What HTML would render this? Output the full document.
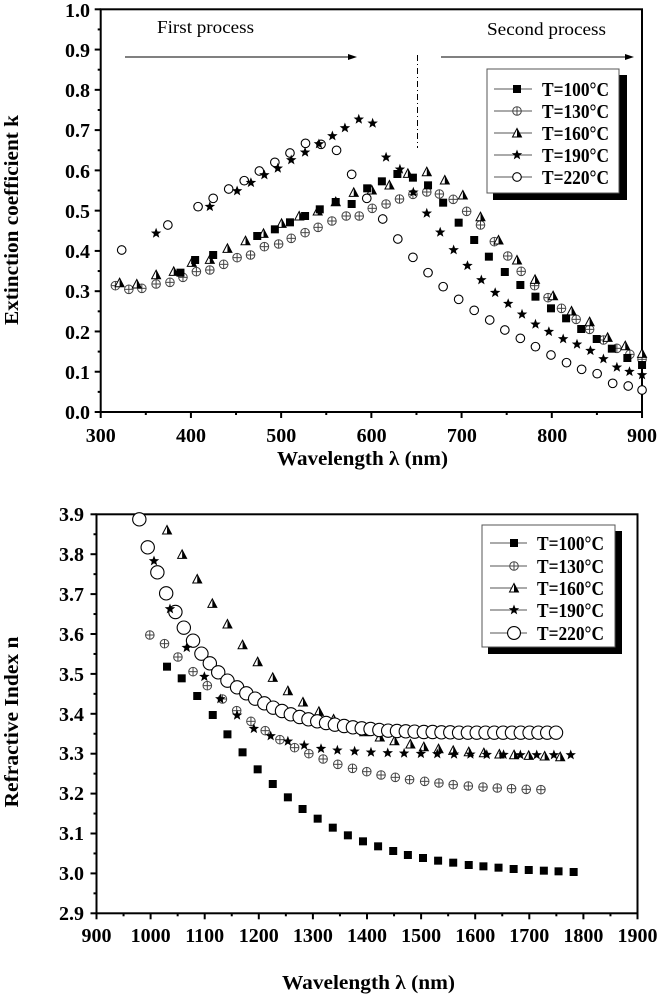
<!DOCTYPE html>
<html><head><meta charset="utf-8">
<style>
html,body{margin:0;padding:0;background:#fff;}
svg{display:block;}
text{font-family:"Liberation Serif",serif;}
</style></head>
<body>
<svg id="s" width="658" height="998" viewBox="0 0 658 998" xmlns="http://www.w3.org/2000/svg">
<rect width="658" height="998" fill="#fff"/>
<g id="g"></g>
<!-- texts -->
<g font-weight="bold" font-size="20" fill="#000">
  <text x="90" y="419" text-anchor="end">0.0</text>
  <text x="90" y="379" text-anchor="end">0.1</text>
  <text x="90" y="339" text-anchor="end">0.2</text>
  <text x="90" y="298" text-anchor="end">0.3</text>
  <text x="90" y="258" text-anchor="end">0.4</text>
  <text x="90" y="218" text-anchor="end">0.5</text>
  <text x="90" y="178" text-anchor="end">0.6</text>
  <text x="90" y="137" text-anchor="end">0.7</text>
  <text x="90" y="97" text-anchor="end">0.8</text>
  <text x="90" y="57" text-anchor="end">0.9</text>
  <text x="90" y="17" text-anchor="end">1.0</text>
  <text x="100.7" y="442" text-anchor="middle">300</text>
  <text x="191" y="442" text-anchor="middle">400</text>
  <text x="281.3" y="442" text-anchor="middle">500</text>
  <text x="371.6" y="442" text-anchor="middle">600</text>
  <text x="461.9" y="442" text-anchor="middle">700</text>
  <text x="552.2" y="442" text-anchor="middle">800</text>
  <text x="642" y="442" text-anchor="middle">900</text>
  <text x="277" y="465" textLength="171" lengthAdjust="spacingAndGlyphs">Wavelength λ (nm)</text>
  <text transform="translate(18,220) rotate(-90)" text-anchor="middle" textLength="210" lengthAdjust="spacingAndGlyphs">Extinction coefficient k</text>

  <text x="84" y="521" text-anchor="end">3.9</text>
  <text x="84" y="561" text-anchor="end">3.8</text>
  <text x="84" y="601" text-anchor="end">3.7</text>
  <text x="84" y="641" text-anchor="end">3.6</text>
  <text x="84" y="681" text-anchor="end">3.5</text>
  <text x="84" y="721" text-anchor="end">3.4</text>
  <text x="84" y="760" text-anchor="end">3.3</text>
  <text x="84" y="800" text-anchor="end">3.2</text>
  <text x="84" y="840" text-anchor="end">3.1</text>
  <text x="84" y="880" text-anchor="end">3.0</text>
  <text x="84" y="920" text-anchor="end">2.9</text>
  <text x="96.5" y="942" text-anchor="middle">900</text>
  <text x="150.6" y="942" text-anchor="middle">1000</text>
  <text x="204.7" y="942" text-anchor="middle">1100</text>
  <text x="258.8" y="942" text-anchor="middle">1200</text>
  <text x="312.9" y="942" text-anchor="middle">1300</text>
  <text x="367" y="942" text-anchor="middle">1400</text>
  <text x="421.1" y="942" text-anchor="middle">1500</text>
  <text x="475.2" y="942" text-anchor="middle">1600</text>
  <text x="529.3" y="942" text-anchor="middle">1700</text>
  <text x="583.4" y="942" text-anchor="middle">1800</text>
  <text x="637.5" y="942" text-anchor="middle">1900</text>
  <text x="282" y="989" textLength="173" lengthAdjust="spacingAndGlyphs">Wavelength λ (nm)</text>
  <text transform="translate(18,722) rotate(-90)" text-anchor="middle" textLength="171" lengthAdjust="spacingAndGlyphs">Refractive Index n</text>
</g>
<g font-size="18" fill="#000">
  <text x="157" y="33" textLength="97" lengthAdjust="spacingAndGlyphs">First process</text>
  <text x="487" y="35" textLength="119" lengthAdjust="spacingAndGlyphs">Second process</text>
</g>
</svg>
<script>
var g=document.getElementById('g');var h='';
function L(x1,y1,x2,y2,w,c,extra){h+='<line x1="'+x1+'" y1="'+y1+'" x2="'+x2+'" y2="'+y2+'" stroke="'+(c||'#000')+'" stroke-width="'+(w||1)+'" '+(extra||'')+'/>';}
function star(x,y,r){var p=[];for(var i=0;i<10;i++){var a=-Math.PI/2+i*Math.PI/5;var rr=i%2?r*0.42:r;p.push((x+rr*Math.cos(a)).toFixed(1)+','+(y+rr*Math.sin(a)).toFixed(1));}return '<polygon points="'+p.join(' ')+'" fill="#000"/>';}
function M(t,x,y,s){s=s||1;
 if(t==0){var a=4*s;h+='<rect x="'+(x-a)+'" y="'+(y-a)+'" width="'+2*a+'" height="'+2*a+'" fill="#000"/>';}
 else if(t==1){var r=4.3*s;h+='<circle cx="'+x+'" cy="'+y+'" r="'+r+'" fill="#fff" stroke="#444" stroke-width="1"/>';L(x-r,y,x+r,y,1,'#444');L(x,y-r,x,y+r,1,'#444');}
 else if(t==2){var a=4.5*s;h+='<polygon points="'+x+','+(y-a)+' '+(x+a)+','+(y+a*0.9)+' '+(x-a)+','+(y+a*0.9)+'" fill="#fff" stroke="#000" stroke-width="1"/>';h+='<polygon points="'+x+','+(y-a)+' '+(x+a)+','+(y+a*0.9)+' '+x+','+(y+a*0.9)+'" fill="#000"/>';}
 else if(t==3){h+=star(x,y,5.5*s);}
 else {var r=4.3*s;h+='<circle cx="'+x+'" cy="'+y+'" r="'+r+'" fill="#fff" stroke="#000" stroke-width="1.1"/>';}
}
// ---- top frame
h+='<rect x="100.7" y="9.3" width="541.3" height="402.7" fill="none" stroke="#000" stroke-width="2"/>';
for(var i=0;i<=12;i++){var x=100.7+i*45.11;L(x,412,x,412+(i%2?3:6),2);}
for(var i=0;i<=20;i++){var y=412-i*20.135;L(100.7,y,100.7-(i%2?3:6),y,2);}
// arrows
L(125,57,350,57,1);h+='<polygon points="357,57 348,54 348,60" fill="#000"/>';
L(441,57,627,57,1);h+='<polygon points="634,57 625,54 625,60" fill="#000"/>';
L(417.5,55,417.5,148,1,'#000','stroke-dasharray="6,3,1,3"');
// ---- bottom frame
h+='<rect x="96.5" y="514.3" width="541" height="399" fill="none" stroke="#000" stroke-width="2"/>';
for(var i=0;i<=20;i++){var x=96.5+i*27.05;L(x,913.3,x,913.3+(i%2?3:6),2);}
for(var i=0;i<=20;i++){var y=913.3-i*19.95;L(96.5,y,96.5-(i%2?3:6),y,2);}
// ---- top data (zoom coords)
var T=[
[[430,818],[465,780],[508,765],[613,708],[655,688],[691,667],[727,648],[762,628],[800,606],[838,612],[875,565],[910,544],[947,522],[984,533],[1020,556],[1056,608],[1093,668],[1130,720],[1165,770],[1203,816],[1240,855],[1276,890],[1313,925],[1349,955],[1385,987],[1422,1017],[1458,1046],[1495,1074],[1530,1095]],
[[275,857],[307,868],[338,865],[372,852],[405,847],[436,832],[468,815],[500,810],[533,793],[565,773],[597,765],[630,740],[664,732],[694,715],[727,698],[758,682],[791,663],[825,648],[856,648],[887,625],[920,612],[952,597],[984,583],[1017,576],[1047,582],[1080,598],[1112,634],[1145,675],[1178,725],[1210,768],[1242,814],[1274,857],[1306,893],[1338,925],[1373,958],[1405,988],[1438,1020],[1470,1045],[1501,1063],[1530,1078]],
[[285,848],[326,852],[372,824],[414,814],[457,787],[500,778],[542,745],[585,722],[628,700],[671,670],[713,648],[757,633],[800,605],[843,577],[886,570],[928,555],[972,520],[1017,515],[1060,540],[1103,585],[1145,650],[1188,720],[1232,780],[1275,838],[1318,887],[1362,933],[1405,965],[1448,1012],[1490,1037],[1530,1060]],
[[372,700],[500,620],[565,573],[598,548],[630,525],[662,505],[694,480],[727,457],[760,432],[792,408],[822,384],[855,358],[888,370],[920,472],[953,508],[985,577],[1017,640],[1049,697],[1081,750],[1114,797],[1147,840],[1180,878],[1211,911],[1244,943],[1276,973],[1308,995],[1342,1017],[1375,1033],[1407,1052],[1438,1077],[1470,1102],[1500,1115],[1530,1125]],
[[290,750],[400,675],[472,620],[508,595],[545,567],[582,542],[618,513],[655,487],[691,459],[728,430],[765,433],[802,451],[838,523],[874,595],[912,657],[948,717],[984,772],[1020,818],[1056,860],[1093,898],[1130,931],[1167,960],[1203,990],[1240,1015],[1276,1040],[1313,1065],[1350,1088],[1386,1108],[1423,1121],[1460,1150],[1497,1158],[1530,1170]]];
var order=[4,1,2,0,3];
order.forEach(function(s){T[s].forEach(function(p){M(s,p[0]/2.383,p[1]/3);});});
// ---- bottom data
var B=[
[[398,530],[433,565],[470,618],[507,675],[542,733],[578,787],[614,838],[650,882],[686,922],[721,957],[757,986],[793,1013],[829,1036],[865,1054],[901,1069],[937,1083],[972,1095],[1008,1104],[1044,1112],[1080,1118],[1117,1125],[1152,1129],[1188,1133],[1224,1137],[1260,1140],[1296,1142],[1331,1144],[1367,1146]],
[[357,435],[392,461],[424,501],[460,545],[494,587],[530,627],[564,662],[598,694],[632,722],[667,749],[702,773],[736,791],[770,807],[805,823],[840,835],[874,845],[908,855],[942,862],[976,869],[1012,874],[1046,879],[1080,884],[1116,888],[1151,891],[1185,894],[1219,896],[1254,898],[1289,899]],
[[398,120],[434,193],[470,267],[506,340],[542,402],[578,464],[614,515],[650,562],[686,602],[722,636],[760,664],[795,687],[830,708],[868,725],[905,741],[940,752],[978,762],[1010,770],[1045,776],[1080,781],[1117,785],[1153,788],[1190,792],[1225,794],[1260,796],[1298,798],[1335,800]],
[[367,213],[405,357],[445,473],[487,560],[525,627],[565,676],[605,716],[645,738],[686,754],[725,766],[765,776],[804,781],[845,784],[884,787],[924,789],[963,790],[1003,791],[1042,792],[1082,793],[1121,793],[1160,794],[1200,794],[1240,795],[1279,795],[1320,795],[1360,795]],
[[332,88],[352,172],[375,247],[396,310],[418,366],[438,413],[460,452],[480,491],[500,520],[520,547],[542,572],[565,592],[587,610],[608,626],[630,640],[651,653],[672,663],[693,673],[714,681],[735,688],[756,694],[777,699],[798,704],[820,708],[841,712],[862,715],[883,717],[904,720],[925,722],[946,723],[967,724],[988,725],[1010,726],[1031,726],[1052,727],[1073,727],[1094,728],[1115,728],[1136,728],[1157,728],[1178,728],[1199,728],[1220,728],[1241,728],[1262,728],[1283,728],[1304,728],[1325,728]]];
[0,1,2,4,3].forEach(function(s){B[s].forEach(function(p){M(s,p[0]/2.383,490+p[1]/3,s==4?1.55:1);});});
// ---- legends
function leg(x0,y0,x1,y1,sx,sy,lx1,lx2,mx,tx,tl,rows,big){
 h+='<rect x="'+(x0+6)+'" y="'+(y0+6)+'" width="'+(sx-x0-6)+'" height="'+(sy-y0-6)+'" fill="#000"/>';
 h+='<rect x="'+x0+'" y="'+y0+'" width="'+(x1-x0)+'" height="'+(y1-y0)+'" fill="#fff" stroke="#555" stroke-width="1"/>';
 var lab=['T=100°C','T=130°C','T=160°C','T=190°C','T=220°C'];
 rows.forEach(function(y,i){L(lx1,y,lx2,y,1,'#555');M(i,mx,y,(big&&i==4)?1.5:1);
  h+='<text x="'+tx+'" y="'+(y+7)+'" font-weight="bold" font-size="20" textLength="'+tl+'" lengthAdjust="spacingAndGlyphs">'+lab[i]+'</text>';});
}
leg(487,69,619,193,627,200,494,532,517,542,67,[89,111,133,155,177],false);
leg(482,525,615,647,622,654,490,527,514,537,67,[543,566,588,610,633],true);
g.innerHTML=h;
</script>
</body></html>
